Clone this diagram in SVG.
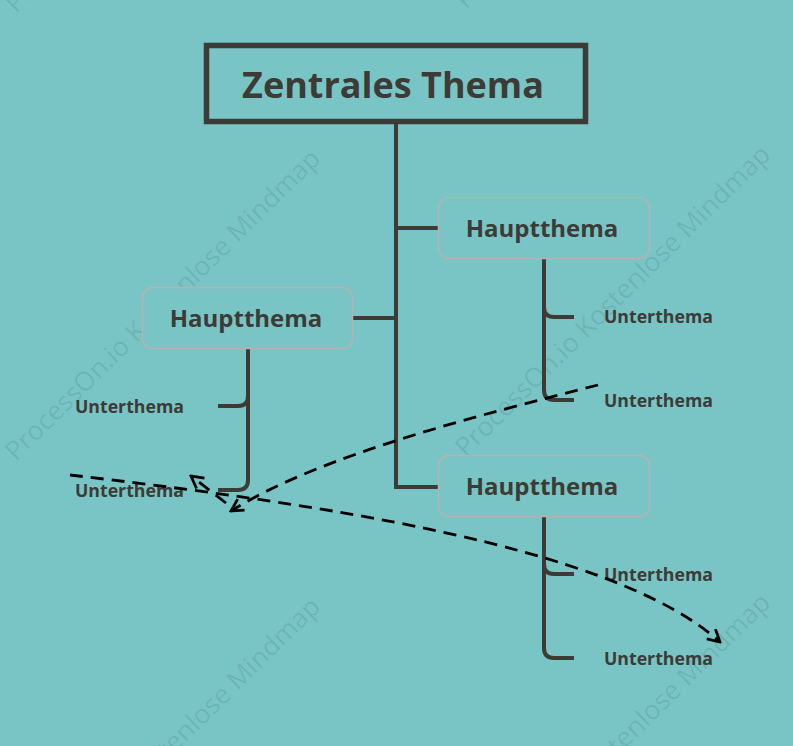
<svg xmlns="http://www.w3.org/2000/svg" width="793" height="746" viewBox="0 0 793 746">
<defs>
<style>
.wm{font-family:"Open Sans","Liberation Sans",sans-serif;font-size:26.5px;fill:#000;fill-opacity:0.09}
.ln{fill:none;stroke:#3d3b35;stroke-width:4}
.main{fill:#79c5c5;stroke:#b7b3b0;stroke-width:1.5}
.ht{font-family:"Open Sans","Liberation Sans",sans-serif;font-weight:bold;font-size:24px;fill:#3d3b35;text-anchor:middle}
.ut{font-family:"Open Sans","Liberation Sans",sans-serif;font-weight:bold;font-size:17.7px;fill:#3d3b35}
.dash{fill:none;stroke:#000;stroke-width:2.8;stroke-dasharray:13 8}
</style>
<marker id="arr" viewBox="0 0 16 16" refX="14" refY="8" markerWidth="16" markerHeight="16" markerUnits="userSpaceOnUse" orient="auto">
<path d="M2,1.5 L14,8 L2,14.5" fill="none" stroke="#000" stroke-width="2.8"/>
</marker>
</defs>
<rect x="0" y="0" width="793" height="746" fill="#79c5c5"/>
<g id="watermarks">
<text class="wm" transform="translate(16,14) rotate(-44.6)">ProcessOn.io Kostenlose Mindmap</text>
<text class="wm" transform="translate(466,10) rotate(-44.6)">ProcessOn.io Kostenlose Mindmap</text>
<text class="wm" transform="translate(16,462) rotate(-44.6)">ProcessOn.io Kostenlose Mindmap</text>
<text class="wm" transform="translate(466,458) rotate(-44.6)">ProcessOn.io Kostenlose Mindmap</text>
<text class="wm" transform="translate(16,910) rotate(-44.6)">ProcessOn.io Kostenlose Mindmap</text>
<text class="wm" transform="translate(466,906) rotate(-44.6)">ProcessOn.io Kostenlose Mindmap</text>
</g>
<g id="connectors">
<path class="ln" d="M396,124 V487 H438"/>
<path class="ln" d="M396,228 H438"/>
<path class="ln" d="M353,318 H396"/>
<path class="ln" d="M544,259 V390 Q544,400 554,400 H574"/>
<path class="ln" d="M544,307 Q544,317 554,317 H574"/>
<path class="ln" d="M248,348 V480 Q248,490 238,490 H218"/>
<path class="ln" d="M248,396 Q248,406 238,406 H218"/>
<path class="ln" d="M544,516 V648 Q544,658 554,658 H574"/>
<path class="ln" d="M544,564 Q544,574 554,574 H574"/>
</g>
<g id="center">
<rect x="206.5" y="45.5" width="379" height="76" fill="#79c5c5" stroke="#3d3b35" stroke-width="5.5"/>
<text x="393" y="98" font-family="'Open Sans','Liberation Sans',sans-serif" font-weight="bold" font-size="36" fill="#3d3b35" text-anchor="middle">Zentrales Thema</text>
</g>
<g id="haupt1">
<rect class="main" x="438.5" y="197.5" width="211" height="61" rx="10"/>
<text class="ht" x="542" y="237">Hauptthema</text>
</g>
<g id="haupt2">
<rect class="main" x="142.5" y="287.5" width="210" height="61" rx="10"/>
<text class="ht" x="246" y="327">Hauptthema</text>
</g>
<g id="haupt3">
<rect class="main" x="438.5" y="455.5" width="211" height="61" rx="10"/>
<text class="ht" x="542" y="495">Hauptthema</text>
</g>
<g id="unter1"><text class="ut" x="604" y="323">Unterthema</text></g>
<g id="unter2"><text class="ut" x="604" y="407">Unterthema</text></g>
<g id="unter3"><text class="ut" x="75" y="413">Unterthema</text></g>
<g id="unter4"><text class="ut" x="75" y="497">Unterthema</text></g>
<g id="unter5"><text class="ut" x="604" y="581">Unterthema</text></g>
<g id="unter6"><text class="ut" x="604" y="665">Unterthema</text></g>
<g id="links">
<path class="dash" d="M70,475 C300,502 610,543 720,642" marker-end="url(#arr)"/>
<path class="dash" d="M598,385 C480,415 320,455 231,511" marker-end="url(#arr)"/>
<path class="dash" d="M226,503 L191,476" marker-end="url(#arr)"/>
</g>
</svg>
